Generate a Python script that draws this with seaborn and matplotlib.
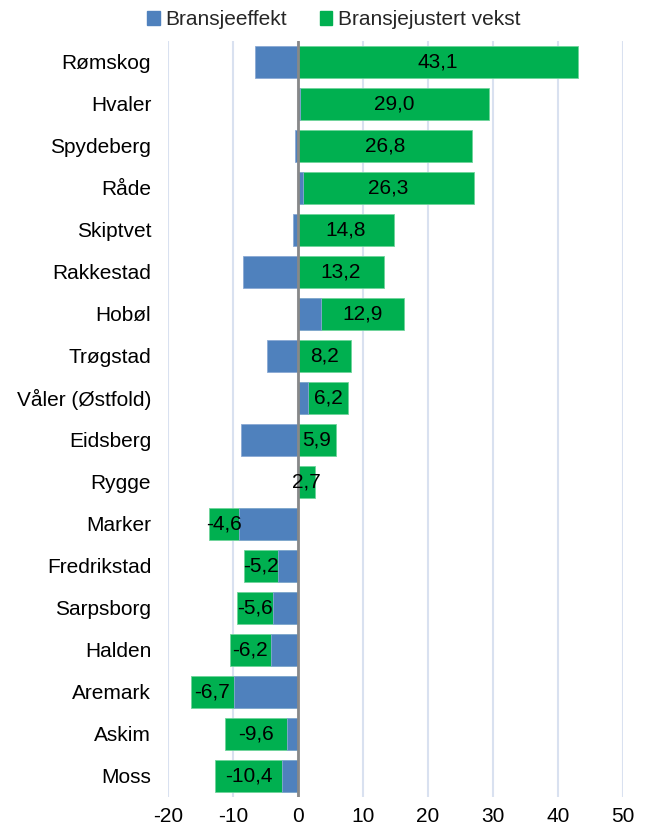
import matplotlib
matplotlib.use("Agg")
import matplotlib.pyplot as plt
from matplotlib.patches import Patch
import seaborn as sns
import pandas as pd
import numpy as np

kommuner = ["Rømskog", "Hvaler", "Spydeberg", "Råde", "Skiptvet", "Rakkestad",
            "Hobøl", "Trøgstad", "Våler (Østfold)", "Eidsberg", "Rygge", "Marker",
            "Fredrikstad", "Sarpsborg", "Halden", "Aremark", "Askim", "Moss"]
bransjeeffekt = [-6.6, 0.4, -0.4, 0.8, -0.8, -8.5, 3.5, -4.7, 1.6, -8.8, 0.0, -9.1,
                 -3.1, -3.8, -4.2, -9.8, -1.6, -2.4]
justert_vekst = [43.1, 29.0, 26.8, 26.3, 14.8, 13.2, 12.9, 8.2, 6.2, 5.9, 2.7, -4.6,
                 -5.2, -5.6, -6.2, -6.7, -9.6, -10.4]

blue = "#4F81BD"
green = "#00B050"

sns.set_theme(style="white")
plt.rcParams["font.family"] = ["Liberation Sans", "DejaVu Sans"]
plt.rcParams["axes.unicode_minus"] = False

df = pd.DataFrame({"kommune": kommuner, "effekt": bransjeeffekt, "vekst": justert_vekst})
# stacked like Excel: same-sign segments continue from the blue one
same = np.sign(df["effekt"]) == np.sign(df["vekst"])
df["start"] = np.where(same, df["effekt"], 0.0)
df["slutt"] = df["start"] + df["vekst"]

fig, ax = plt.subplots(figsize=(6.48, 8.3), dpi=100)
fig.subplots_adjust(left=0.259, right=0.961, top=0.951, bottom=0.040)

sns.barplot(data=df, y="kommune", x="slutt", color=green, saturation=1, width=0.76,
            edgecolor="#6fd49a", linewidth=0.6, ax=ax, zorder=2)
sns.barplot(data=df, y="kommune", x="effekt", color=blue, saturation=1, width=0.76,
            edgecolor="#8aa9d4", linewidth=0.6, ax=ax, zorder=3)

for i, row in df.iterrows():
    ax.text(row["start"] + row["vekst"] / 2, i, f"{row['vekst']:.1f}".replace(".", ","),
            ha="center", va="center", fontsize=15, color="black", zorder=6)

ax.set_xlim(-20, 50)
ax.set_xticks(range(-20, 51, 10))
ax.set_ylim(len(kommuner) - 0.5, -0.5)
ax.xaxis.grid(True, color="#D9E1F0", linewidth=1.5, zorder=0)
ax.yaxis.grid(False)
ax.set_axisbelow(True)
ax.axvline(0, color="#888888", linewidth=2, zorder=5)
for s in ax.spines.values():
    s.set_visible(False)
ax.set_xlabel("")
ax.set_ylabel("")
ax.tick_params(axis="x", labelsize=15, length=0, pad=7, colors="black")
ax.tick_params(axis="y", labelsize=15, length=0, pad=12, colors="black")

handles = [Patch(color=blue, label="Bransjeeffekt"), Patch(color=green, label="Bransjejustert vekst")]
fig.legend(handles=handles, loc="upper center", bbox_to_anchor=(0.515, 1.01), ncol=2,
           frameon=False, fontsize=15, handlelength=0.6, handleheight=0.6,
           handletextpad=0.25, columnspacing=1.6)

fig.savefig("out.png", dpi=100)
